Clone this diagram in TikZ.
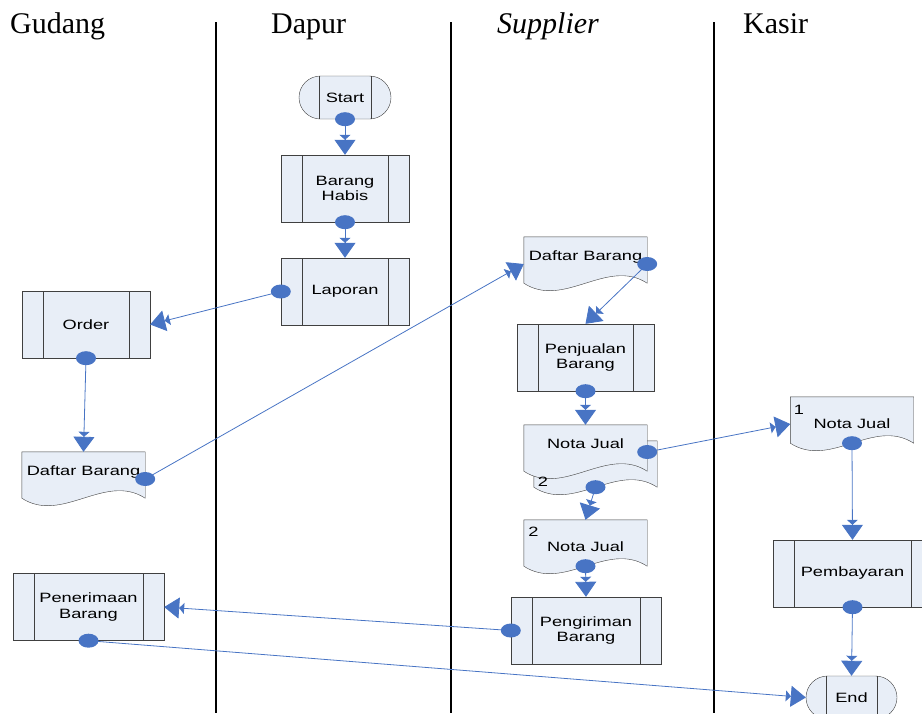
\documentclass[tikz,border=0pt]{standalone}
\usepackage{fontspec}
\setmainfont{Liberation Serif}
\newfontfamily\boxfont[FakeStretch=1.35]{Liberation Sans}
\usepackage{tikz}
\usetikzlibrary{shapes.misc, shapes.geometric, arrows.meta}

\definecolor{boxfill}{RGB}{232,238,247}
\definecolor{boxline}{RGB}{64,64,64}
\definecolor{flowblue}{RGB}{72,116,196}

\pgfdeclarelayer{background}
\pgfsetlayers{background,main}

% wavy bottom of a document node
\newcommand{\docoutline}[1]{%
    \filldraw[draw=boxline, fill=boxfill] (#1.north west) -- (#1.north east) -- (#1.south east)
        .. controls +(-40,-26) and +(40,26) .. (#1.south west) -- cycle;}

\begin{document}
\begin{tikzpicture}[
        x=1pt, y=-1pt,
        every node/.style={font=\fontsize{13.5}{15.5}\boxfont, align=center},
        lane title/.style={font=\fontsize{30}{36}\selectfont, inner sep=0pt, anchor=base west},
        lane/.style={draw=black, line width=1.6pt},
        subproc/.style={rectangle, draw=boxline, fill=boxfill, minimum height=67pt, inner sep=0pt,
            path picture={
                \draw[boxline] ([xshift=21pt]path picture bounding box.north west) -- ([xshift=21pt]path picture bounding box.south west);
                \draw[boxline] ([xshift=-21pt]path picture bounding box.north east) -- ([xshift=-21pt]path picture bounding box.south east);}},
        terminal/.style={rounded rectangle, draw=boxline, fill=boxfill, minimum width=92pt, minimum height=43pt, inner sep=0pt,
            path picture={
                \draw[boxline] ([xshift=20pt]path picture bounding box.north west) -- ([xshift=20pt]path picture bounding box.south west);
                \draw[boxline] ([xshift=-20pt]path picture bounding box.north east) -- ([xshift=-20pt]path picture bounding box.south east);}},
        doc/.style={rectangle, minimum width=123pt, minimum height=46pt, inner sep=0pt, text height=9.5pt, text depth=9.5pt},
        docnum/.style={doc, text height=16pt, text depth=0pt},
        numtext/.style={inner sep=0pt},
        dot/.style={ellipse, fill=flowblue, minimum width=20pt, minimum height=14pt, inner sep=0pt},
        flow/.style={draw=flowblue, line width=0.8pt, -{Triangle[width=11pt,length=5pt,sep=0pt] Triangle[width=21pt,length=15pt]}}
    ]
    \useasboundingbox (0,0) rectangle (922,713);

    % Lanes
    \node[lane title] (tgudang) at (10,33) {Gudang};
    \node[lane title] (tdapur) at (271,33) {Dapur};
    \node[lane title] (tsupplier) at (497,33) {\itshape Supplier};
    \node[lane title] (tkasir) at (743,33) {Kasir};
    \draw[lane] (216,22) -- (216,713);
    \draw[lane] (451,22) -- (451,713);
    \draw[lane] (714,22) -- (714,713);

    % Dapur
    \node[terminal] (start) at (345,97.5) {Start};
    \node[subproc, minimum width=128pt] (habis) at (345,188.5) {Barang\\Habis};
    \node[subproc, minimum width=128pt] (laporan) at (345,291.5) {Laporan};

    % Gudang
    \node[subproc, minimum width=128pt] (order) at (86,324.5) {Order};
    \node[doc] (daftarG) at (83.5,475) {Daftar Barang};
    \node[subproc, minimum width=151pt] (terima) at (88.5,607) {Penerimaan\\Barang};

    % Supplier
    \node[doc] (daftarS) at (585.5,260) {Daftar Barang};
    \node[subproc, minimum width=137pt] (jual) at (585.5,357.5) {Penjualan\\Barang};
    \node[doc] (notaB) at (595.5,464) {};
    \node[numtext] (numB) at ([xshift=-52.5pt, yshift=-18pt]notaB.center) {2};
    \node[doc] (notaF) at (585.5,448) {Nota Jual};
    \node[docnum] (nota2) at (585.5,543) {Nota Jual};
    \node[numtext] (num2) at ([xshift=-52pt, yshift=11pt]nota2.center) {2};
    \node[subproc, minimum width=150pt] (kirim) at (586,630.5) {Pengiriman\\Barang};

    % Kasir
    \node[docnum] (nota1) at (852,420) {Nota Jual};
    \node[numtext] (num1) at ([xshift=-53pt, yshift=10pt]nota1.center) {1};
    \node[subproc, minimum width=159pt] (bayar) at (852.5,573.5) {Pembayaran};
    \node[terminal, minimum width=91pt] (end) at (851.5,697.5) {End};

    % Document outlines
    \begin{pgfonlayer}{background}
        \docoutline{daftarG}
        \docoutline{daftarS}
        \docoutline{notaB}
        \docoutline{notaF}
        \docoutline{nota2}
        \docoutline{nota1}
    \end{pgfonlayer}

    % Connection points
    \node[dot] (d1) at (start.south) {};
    \node[dot] (d2) at (habis.south) {};
    \node[dot] (d3) at (laporan.west) {};
    \node[dot] (d4) at (order.south) {};
    \node[dot] (d5) at ([yshift=-4pt]daftarG.east) {};
    \node[dot] (d6) at ([yshift=-4pt]daftarS.east) {};
    \node[dot] (d7) at (jual.south) {};
    \node[dot] (d8) at ([yshift=-4pt]notaF.east) {};
    \node[dot] (d9) at (notaB.south) {};
    \node[dot] (d10) at (nota2.south) {};
    \node[dot] (d11) at (kirim.west) {};
    \node[dot] (d12) at (terima.south) {};
    \node[dot] (d13) at (nota1.south) {};
    \node[dot] (d14) at (bayar.south) {};

    % Flows
    \draw[flow] (d1.center) -- (habis.north);
    \draw[flow] (d2.center) -- (laporan.north);
    \draw[flow] (d3.center) -- (order.east);
    \draw[flow] (d4.center) -- (daftarG.north);
    \draw[flow] (d5.center) -- ([yshift=-4pt]daftarS.west);
    \draw[flow] (d6.center) -- (jual.north);
    \draw[flow] (d7.center) -- (notaF.north);
    \draw[flow] (d8.center) -- ([yshift=-4pt]nota1.west);
    \draw[flow] (d9.center) -- (nota2.north);
    \draw[flow] (d10.center) -- (kirim.north);
    \draw[flow] (d11.center) -- (terima.east);
    \draw[flow] (d12.center) -- (end.west);
    \draw[flow] (d13.center) -- (bayar.north);
    \draw[flow] (d14.center) -- (end.north);
\end{tikzpicture}
\end{document}
